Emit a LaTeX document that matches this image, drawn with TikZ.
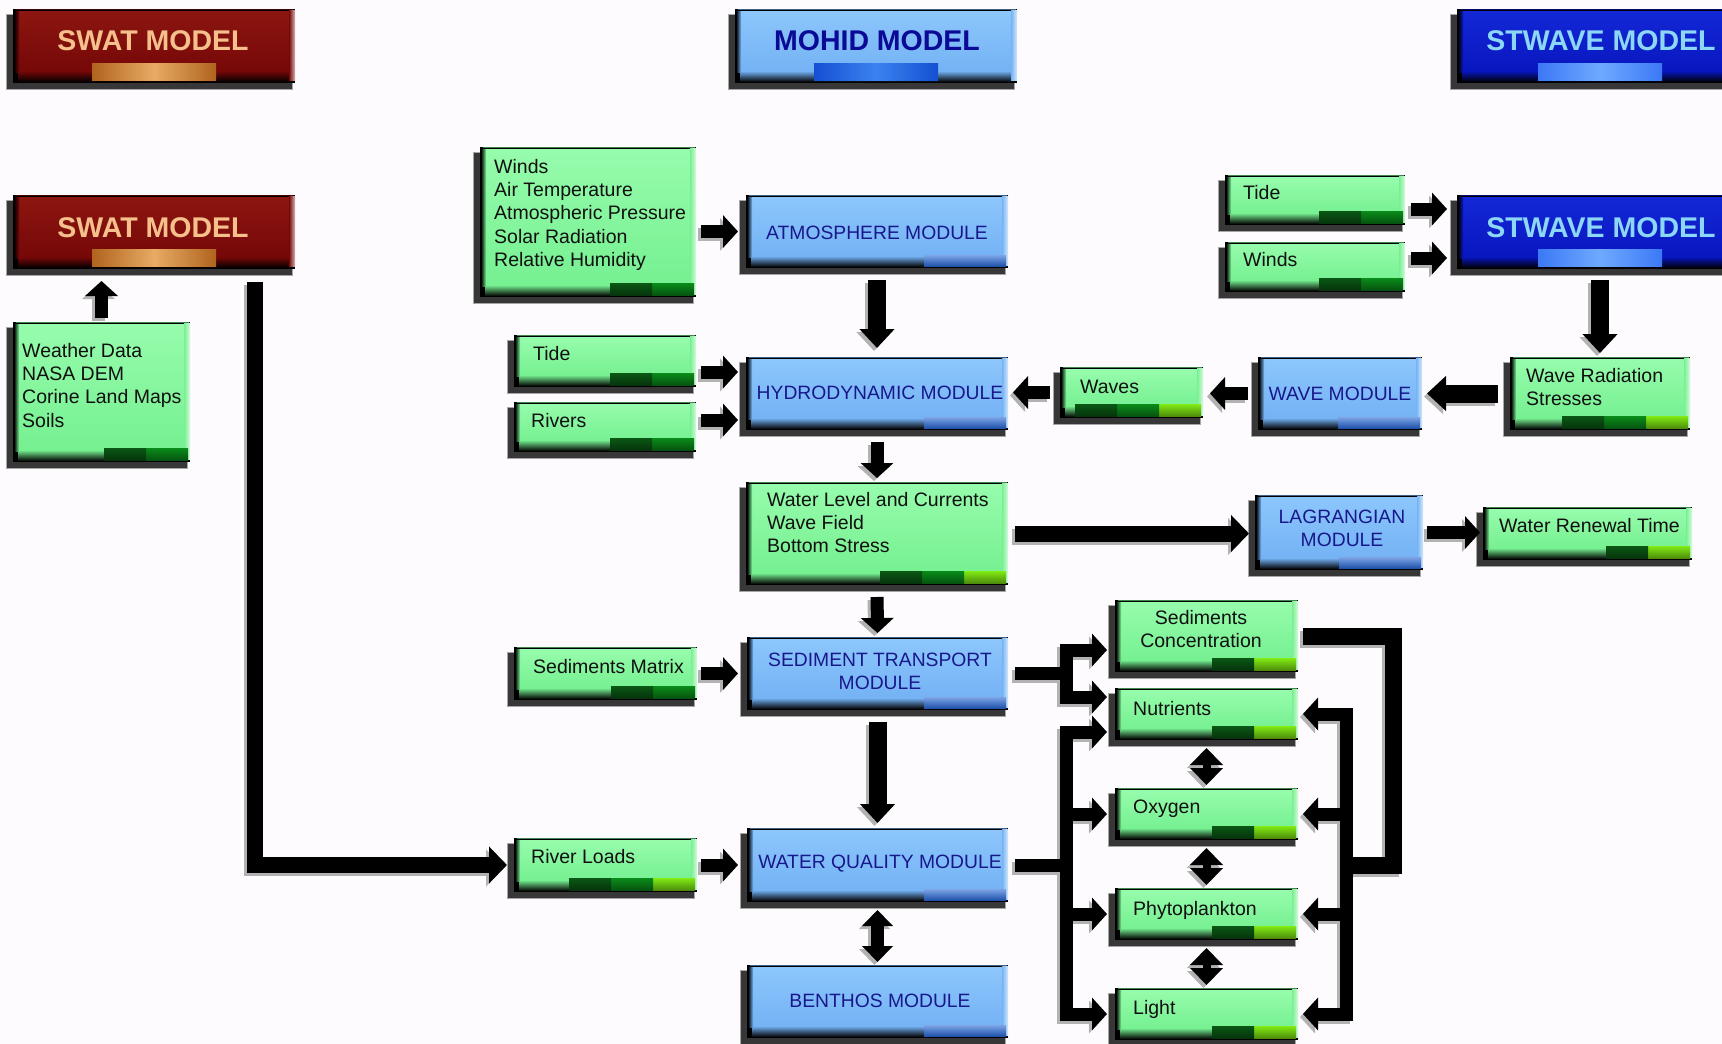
\documentclass[tikz,border=0pt]{standalone}
\usepackage{fontspec}
\setmainfont{Liberation Sans}
\usetikzlibrary{arrows.meta,calc,fit}
\definecolor{bgc}{RGB}{253,251,253}
\definecolor{gmain}{RGB}{118,240,145}
\definecolor{glight}{RGB}{150,252,172}
\definecolor{bmain}{RGB}{116,178,244}
\definecolor{blight}{RGB}{140,198,252}
\definecolor{modtxt}{RGB}{24,24,140}
\definecolor{rmain}{RGB}{118,8,8}
\definecolor{rlight}{RGB}{140,22,16}
\definecolor{rtext}{RGB}{245,192,140}
\definecolor{smain}{RGB}{8,22,190}
\definecolor{slight}{RGB}{20,40,215}
\definecolor{stext}{RGB}{140,214,246}
\definecolor{mtitle}{RGB}{10,10,150}
\definecolor{sdark}{RGB}{10,88,20}
\definecolor{sgreen}{RGB}{10,140,26}
\definecolor{slime}{RGB}{130,235,20}
\definecolor{bstripe}{RGB}{40,104,214}
\definecolor{shadowc}{RGB}{55,55,55}
\definecolor{orE}{RGB}{176,100,30}
\definecolor{orM}{RGB}{232,170,100}
\definecolor{mbE}{RGB}{20,80,210}
\definecolor{mbM}{RGB}{60,130,240}
\definecolor{sbE}{RGB}{60,120,245}
\definecolor{sbM}{RGB}{110,170,255}
\definecolor{gtxt}{RGB}{16,16,16}

\newcommand{\mkbox}[5]{\node[fit={(#2,#3) (#4,#5)}, inner sep=0pt, outer sep=0pt] (#1) {};}
\newcommand{\boxdeco}[3]{%
 \filldraw[fill=shadowc, draw=gray!70, line width=0.8pt] ($(#1.north west)+(-7,5)$) rectangle ($(#1.south east)+(-3,6)$);
 \fill[black] (#1.north west) rectangle (#1.south east);
 \shade[top color=#3, bottom color=#2] ($(#1.north west)+(5,2)$) rectangle ($(#1.south east)+(-3,-11)$);
 \shade[top color=#2, bottom color=black] ($(#1.south west)+(5,-12)$) rectangle ($(#1.south east)+(-3,-1)$);
 \shade[left color=black, right color=#2] ($(#1.north west)+(1,2)$) rectangle ($(#1.south west)+(6,-11)$);
 \shade[left color=#2, right color=#2!30!white] ($(#1.north east)+(-6,1)$) rectangle ($(#1.south east)+(0,-3)$);
 \draw[#2!55!black, line width=1.2pt] ($(#1.north west)+(3,0.6)$) -- ($(#1.north east)+(-1,0.6)$);
}
\newcommand{\stripeseg}[3]{\shade[top color=#3, bottom color=#3!60!black] ($(#1.south east)+(-#2-42,-14)$) rectangle ($(#1.south east)+(-#2,-2)$);}
\newcommand{\gDG}[1]{\stripeseg{#1}{2}{sgreen}\stripeseg{#1}{44}{sdark}}
\newcommand{\gDGL}[1]{\stripeseg{#1}{2}{slime}\stripeseg{#1}{44}{sgreen}\stripeseg{#1}{86}{sdark}}
\newcommand{\gDL}[1]{\stripeseg{#1}{2}{slime}\stripeseg{#1}{44}{sdark}}
\newcommand{\modstripe}[1]{\shade[top color=bstripe!60!white, bottom color=bstripe!80!black] ($(#1.south east)+(-84,-13)$) rectangle ($(#1.south east)+(-2,-2)$);}
\newcommand{\tstripe}[3]{\shade[left color=#2, right color=#2, middle color=#3] ($(#1.south)+(-62,-20)$) rectangle ($(#1.south)+(62,-3)$);}

\newcommand{\allconn}{%
\cn{ar,shorten <=5pt,shorten >=8pt}{(win.east |- atm.west) -- (atm.west)}%
\cn{ar,shorten <=5pt,shorten >=8pt}{($(tide.east)+(0,11)$) -- ($(tide.east -| hyd.west)+(0,11)$)}%
\cn{ar,shorten <=5pt,shorten >=8pt}{($(riv.east)+(0,-7)$) -- ($(riv.east -| hyd.west)+(0,-7)$)}%
\cn{arb,shorten <=12pt,shorten >=9pt}{(atm.south) -- (hyd.north)}%
\cn{ar,shorten <=6pt,shorten >=10pt}{($(tider.east)+(0,9)$) -- ($(tider.east -| stw2.west)+(0,9)$)}%
\cn{ar,shorten <=6pt,shorten >=10pt}{($(windr.east)+(0,-9)$) -- ($(windr.east -| stw2.west)+(0,-9)$)}%
\cn{arb,shorten <=11pt,shorten >=4pt}{(wrs.north |- stw2.south) -- (wrs.north)}%
\cn{arb,shorten <=12pt,shorten >=5pt}{(wrs.west) -- (wrs.west -| wm.east)}%
\cn{ar,shorten <=10pt,shorten >=7pt}{(wm.west) -- (wm.west -| wav.east)}%
\cn{ar,shorten <=10pt,shorten >=5pt}{(wav.west) -- (wav.west -| hyd.east)}%
\cn{ar,shorten <=12pt,shorten >=4pt}{(hyd.south) -- (wlc.north)}%
\cn{arl,shorten <=7pt,shorten >=6pt}{(wlc.east) -- (wlc.east -| lag.west)}%
\cn{ar,shorten <=4pt,shorten >=3pt}{(lag.east) -- (lag.east -| wrt.west)}%
\cn{ar,shorten <=12pt,shorten >=4pt}{(wlc.south) -- (sed.north)}%
\cn{ar,shorten <=4pt,shorten >=9pt}{(sm.east) -- (sm.east -| sed.west)}%
\cn{arb,shorten <=12pt,shorten >=5pt}{(sed.south) -- (wq.north)}%
\cn{ar,shorten <=4pt,shorten >=9pt}{(rl.east) -- (rl.east -| wq.west)}%
\cn{ard,shorten <=8pt,shorten >=3pt}{(wq.south) -- (ben.north)}%
\cn{ar,shorten <=4pt,shorten >=12pt}{(wd.north) -- (wd.north |- swat2.south)}%
\cn{arl,shorten <=13pt,shorten >=7pt}{($(swat2.south east)+(-40,0)$) |- (rl.west)}%
\cn{ar,shorten <=7pt,shorten >=8pt}{(sed.east) -| ($(sc.west)+(-49,14)$) -- ($(sc.west)+(0,14)$)}%
\cn{ar,shorten <=7pt,shorten >=8pt}{(sed.east) -| ($(nut.west)+(-49,-17)$) -- ($(nut.west)+(0,-17)$)}%
\cn{ar,shorten <=7pt,shorten >=8pt}{(wq.east) -| ($(nut.west)+(-49,18)$) -- ($(nut.west)+(0,18)$)}%
\cn{ar,shorten <=7pt,shorten >=8pt}{(wq.east) -| ($(oxy.west)+(-49,0)$) -- (oxy.west)}%
\cn{ar,shorten <=7pt,shorten >=8pt}{(wq.east) -| ($(phy.west)+(-49,0)$) -- (phy.west)}%
\cn{ar,shorten <=7pt,shorten >=8pt}{(wq.east) -| ($(lig.west)+(-49,0)$) -- (lig.west)}%
\cn{bar,shorten <=5pt}{(sc.east) -| ($(sc.east |- wq.east)+(95,0)$) -- ($(sc.east |- wq.east)+(42,0)$)}%
\cn{ar,shorten >=5pt}{($(sc.east |- wq.east)+(48,0)$) |- (nut.east)}%
\cn{ar,shorten >=5pt}{($(sc.east |- wq.east)+(48,0)$) |- (oxy.east)}%
\cn{ar,shorten >=5pt}{($(sc.east |- wq.east)+(48,0)$) |- (phy.east)}%
\cn{ar,shorten >=5pt}{($(sc.east |- wq.east)+(48,0)$) |- (lig.east)}%
\cn{ardia,shorten <=8pt,shorten >=3pt}{(nut.south) -- (oxy.north)}%
\cn{ardia,shorten <=8pt,shorten >=3pt}{(oxy.south) -- (phy.north)}%
\cn{ardia,shorten <=8pt,shorten >=3pt}{(phy.south) -- (lig.north)}%
}

\tikzset{
 ar/.style={line width=13pt, draw=black, -{Triangle[length=15pt,width=32pt]}},
 arb/.style={line width=18pt, draw=black, -{Triangle[length=19pt,width=34pt]}},
 arl/.style={line width=16pt, draw=black, -{Triangle[length=18pt,width=36pt]}},
 ard/.style={line width=13pt, draw=black, {Triangle[length=16pt,width=30pt]}-{Triangle[length=16pt,width=30pt]}},
 ardia/.style={line width=8pt, draw=black, {Triangle[length=17pt,width=32pt]}-{Triangle[length=17pt,width=32pt]}},
 bar/.style={line width=17pt, draw=black},
 shad/.style={draw=gray!60, transform canvas={xshift=-3pt,yshift=-3pt}},
 ttl/.style={font=\fontsize{28.5}{30}\selectfont\bfseries, anchor=base, inner sep=0pt},
 mt/.style={font=\fontsize{19.3}{23.3}\selectfont, text=modtxt, inner sep=0pt, align=center},
 gt/.style={font=\fontsize{19.5}{23.3}\selectfont, text=gtxt, inner sep=0pt, align=left},
}

\begin{document}
\begin{tikzpicture}[x=1pt,y=-1pt]
\useasboundingbox (0,0) rectangle (1722,1044);
\clip (0,0) rectangle (1722,1044);
\fill[bgc] (0,0) rectangle (1722,1044);

% title boxes
\mkbox{swat1}{13}{9}{295}{83}
\mkbox{mohid}{735}{9}{1017}{83}
\mkbox{stw1}{1457}{9}{1743}{83}
\mkbox{swat2}{13}{195}{295}{269}
\mkbox{stw2}{1457}{195}{1743}{269}
\boxdeco{swat1}{rmain}{rlight}\tstripe{swat1}{orE}{orM}
\boxdeco{mohid}{bmain}{blight}\tstripe{mohid}{mbE}{mbM}
\boxdeco{stw1}{smain}{slight}\tstripe{stw1}{sbE}{sbM}
\boxdeco{swat2}{rmain}{rlight}\tstripe{swat2}{orE}{orM}
\boxdeco{stw2}{smain}{slight}\tstripe{stw2}{sbE}{sbM}
\node[ttl, text=rtext] (swat1-t) at (153,50) {SWAT MODEL};
\node[ttl, text=mtitle] (mohid-t) at (877,50) {MOHID MODEL};
\node[ttl, text=stext] (stw1-t) at (1601,50) {STWAVE MODEL};
\node[ttl, text=rtext] (swat2-t) at (153,237) {SWAT MODEL};
\node[ttl, text=stext] (stw2-t) at (1601,237) {STWAVE MODEL};

% green boxes
\mkbox{wd}{13}{322}{190}{462}
\mkbox{win}{480}{147}{696}{297}
\mkbox{tide}{514}{335}{696}{387}
\mkbox{riv}{514}{402}{696}{452}
\mkbox{wav}{1060}{367}{1203}{418}
\mkbox{wrs}{1510}{357}{1690}{430}
\mkbox{tider}{1225}{175}{1405}{225}
\mkbox{windr}{1225}{242}{1405}{292}
\mkbox{wlc}{746}{482}{1008}{585}
\mkbox{wrt}{1483}{507}{1692}{560}
\mkbox{sm}{514}{647}{697}{700}
\mkbox{rl}{514}{838}{697}{892}
\mkbox{sc}{1115}{600}{1298}{672}
\mkbox{nut}{1115}{688}{1298}{740}
\mkbox{oxy}{1115}{788}{1298}{840}
\mkbox{phy}{1115}{888}{1298}{940}
\mkbox{lig}{1115}{988}{1298}{1040}
\foreach \b in {wd,win,tide,riv,wav,wrs,tider,windr,wlc,wrt,sm,rl,sc,nut,oxy,phy,lig}{\boxdeco{\b}{gmain}{glight}}
\gDG{wd}\gDG{win}\gDG{tide}\gDG{riv}\gDG{tider}\gDG{windr}\gDG{sm}
\gDGL{wav}\gDGL{wrs}\gDGL{wlc}\gDGL{rl}
\gDL{wrt}\gDL{sc}\gDL{nut}\gDL{oxy}\gDL{phy}\gDL{lig}

% blue modules
\mkbox{atm}{746}{195}{1008}{268}
\mkbox{hyd}{746}{357}{1008}{430}
\mkbox{wm}{1258}{357}{1422}{430}
\mkbox{lag}{1255}{495}{1423}{570}
\mkbox{sed}{747}{637}{1008}{710}
\mkbox{wq}{747}{828}{1008}{902}
\mkbox{ben}{747}{965}{1008}{1038}
\foreach \b in {atm,hyd,wm,lag,sed,wq,ben}{\boxdeco{\b}{bmain}{blight}\modstripe{\b}}

% texts
\node[gt, anchor=north west] (wd-t) at (22,343) {Weather Data\\NASA DEM\\Corine Land Maps\\Soils};
\node[gt, anchor=north west] (win-t) at (494,159) {Winds\\Air Temperature\\Atmospheric Pressure\\Solar Radiation\\Relative Humidity};
\node[gt, anchor=base west] (tide-t) at (533,360) {Tide};
\node[gt, anchor=base west] (riv-t) at (531,427) {Rivers};
\node[gt, anchor=base west] (tider-t) at (1243,199) {Tide};
\node[gt, anchor=base west] (windr-t) at (1243,266) {Winds};
\node[gt, anchor=base west] (wav-t) at (1080,393) {Waves};
\node[gt, anchor=north west] (wrs-t) at (1526,368) {Wave Radiation\\Stresses};
\node[gt, anchor=north west] (wlc-t) at (767,492) {Water Level and Currents\\Wave Field\\Bottom Stress};
\node[gt, anchor=base west] (wrt-t) at (1499,532) {Water Renewal Time};
\node[gt, anchor=base west] (sm-t) at (533,673) {Sediments Matrix};
\node[gt, anchor=base west] (rl-t) at (531,863) {River Loads};
\node[gt, anchor=north, align=center] (sc-t) at (1201,610) {Sediments\\Concentration};
\node[gt, anchor=base west] (nut-t) at (1133,715) {Nutrients};
\node[gt, anchor=base west] (oxy-t) at (1133,813) {Oxygen};
\node[gt, anchor=base west] (phy-t) at (1133,915) {Phytoplankton};
\node[gt, anchor=base west] (lig-t) at (1133,1014) {Light};

\node[mt, anchor=base] (atm-t) at (877,239) {ATMOSPHERE MODULE};
\node[mt, anchor=base] (hyd-t) at (880,399) {HYDRODYNAMIC MODULE};
\node[mt, anchor=base] (wm-t) at (1340,400) {WAVE MODULE};
\node[mt, anchor=north] (lag-t) at (1342,510) {LAGRANGIAN\\MODULE};
\node[mt, anchor=north] (sed-t) at (880,653) {SEDIMENT TRANSPORT\\MODULE};
\node[mt, anchor=base] (wq-t) at (880,868) {WATER QUALITY MODULE};
\node[mt, anchor=base] (ben-t) at (880,1007) {BENTHOS MODULE};

% connectors: shadow pass, then black pass
\def\cn#1#2{\draw[#1,shad] #2;}
\allconn
\def\cn#1#2{\draw[#1] #2;}
\allconn
\end{tikzpicture}
\end{document}
